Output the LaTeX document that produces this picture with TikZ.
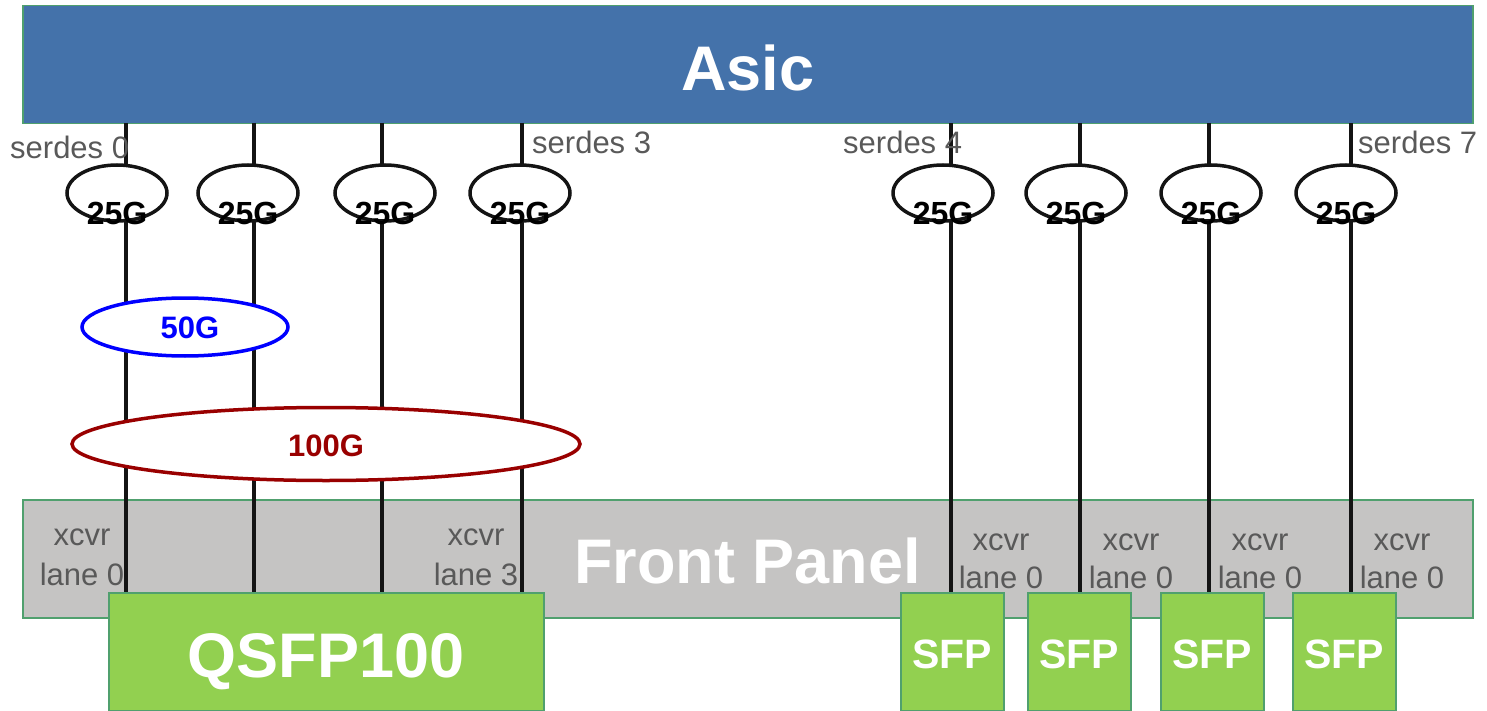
\documentclass[tikz,border=0pt]{standalone}
\usepackage{fontspec}
\setmainfont{Liberation Sans}
\usetikzlibrary{shapes.geometric}
\definecolor{asicblue}{RGB}{68,114,170}
\definecolor{edgegreen}{RGB}{80,160,110}
\definecolor{panelgray}{RGB}{197,196,195}
\definecolor{portgreen}{RGB}{146,208,80}
\definecolor{labelgray}{RGB}{89,89,89}
\definecolor{darkred}{RGB}{153,0,0}
\definecolor{wireblack}{RGB}{20,20,20}
\begin{document}
\begin{tikzpicture}[x=1pt,y=-1pt,
  box/.style={draw=edgegreen, line width=1.5pt, inner sep=0pt, anchor=north west, text=white,
    font=\fontsize{63}{63}\selectfont\bfseries, text depth=0pt},
  wire/.style={line width=3.5pt, draw=wireblack},
  lane/.style={ellipse, draw=wireblack, fill=white, line width=3.5pt, minimum width=100pt,
    minimum height=56pt, inner sep=0pt},
  lanetxt/.style={font=\fontsize{32}{32}\selectfont\bfseries, inner sep=0pt},
  lbl/.style={text=labelgray, font=\fontsize{31}{31}\selectfont, inner sep=0pt},
  speed/.style={ellipse, fill=white, line width=3.5pt, inner sep=0pt},
  speedtxt/.style={font=\fontsize{31}{31}\selectfont\bfseries, inner sep=0pt},
]
\useasboundingbox (0,0) rectangle (1487,711);

% Asic and front panel
\node[box, fill=asicblue, minimum width=1450pt, minimum height=118pt, text height=52pt] (asic) at (22,5)
  {Asic};
\node[box, fill=panelgray, minimum width=1450pt, minimum height=118pt, text height=50pt] (panel) at (22,499)
  {Front Panel};

% serdes wires
\foreach \i/\x in {1/126,2/254,3/382,4/522,5/951,6/1080,7/1209,8/1351} {
  \coordinate (top\i) at (\x,123);
  \coordinate (bot\i) at (\x,592);
  \draw[wire] (top\i) -- (bot\i);
}

% 25G lane ellipses
\foreach \i/\x in {1/117,2/248,3/385,4/520,5/943,6/1076,7/1211,8/1346} {
  \node[lane] (r\i) at (\x,193) {};
  \node[lanetxt] (t\i) at (\x,213) {25G};
}

% 50G and 100G groupings
\node[speed, draw=blue, minimum width=206pt, minimum height=58pt] (g50) at (185,327) {};
\node[speedtxt, text=blue] (g50t) at (190,328) {50G};
\node[speed, draw=darkred, minimum width=508pt, minimum height=73pt] (g100) at (326,444) {};
\node[speedtxt, text=darkred] (g100t) at (326,446) {100G};

% serdes labels
\node[lbl, anchor=base west] (sd0) at (10,159) {serdes 0};
\node[lbl, anchor=base west] (sd3) at (532,154) {serdes 3};
\node[lbl, anchor=base west] (sd4) at (843,154) {serdes 4};
\node[lbl, anchor=base west] (sd7) at (1358,154) {serdes 7};

% xcvr labels
\node[lbl, anchor=base] (xa1) at (82,545) {xcvr};
\node[lbl, anchor=base] (xb1) at (82,585) {lane 0};
\node[lbl, anchor=base] (xa2) at (476,545) {xcvr};
\node[lbl, anchor=base] (xb2) at (476,585) {lane 3};
\foreach \i/\x in {3/1001,4/1131,5/1260,6/1402} {
  \node[lbl, anchor=base] (xa\i) at (\x,550) {xcvr};
  \node[lbl, anchor=base] (xb\i) at (\x,588) {lane 0};
}

% ports
\node[box, fill=portgreen, minimum width=435pt, minimum height=118pt, text height=52pt] (qsfp) at (108,592)
  {QSFP100};
\foreach \i/\x in {1/900,2/1027,3/1160,4/1292} {
  \node[box, fill=portgreen, minimum width=103pt, minimum height=118pt, text height=34pt,
    font=\fontsize{41}{41}\selectfont\bfseries] (sfp\i) at (\x,592) {SFP};
}
\end{tikzpicture}
\end{document}
